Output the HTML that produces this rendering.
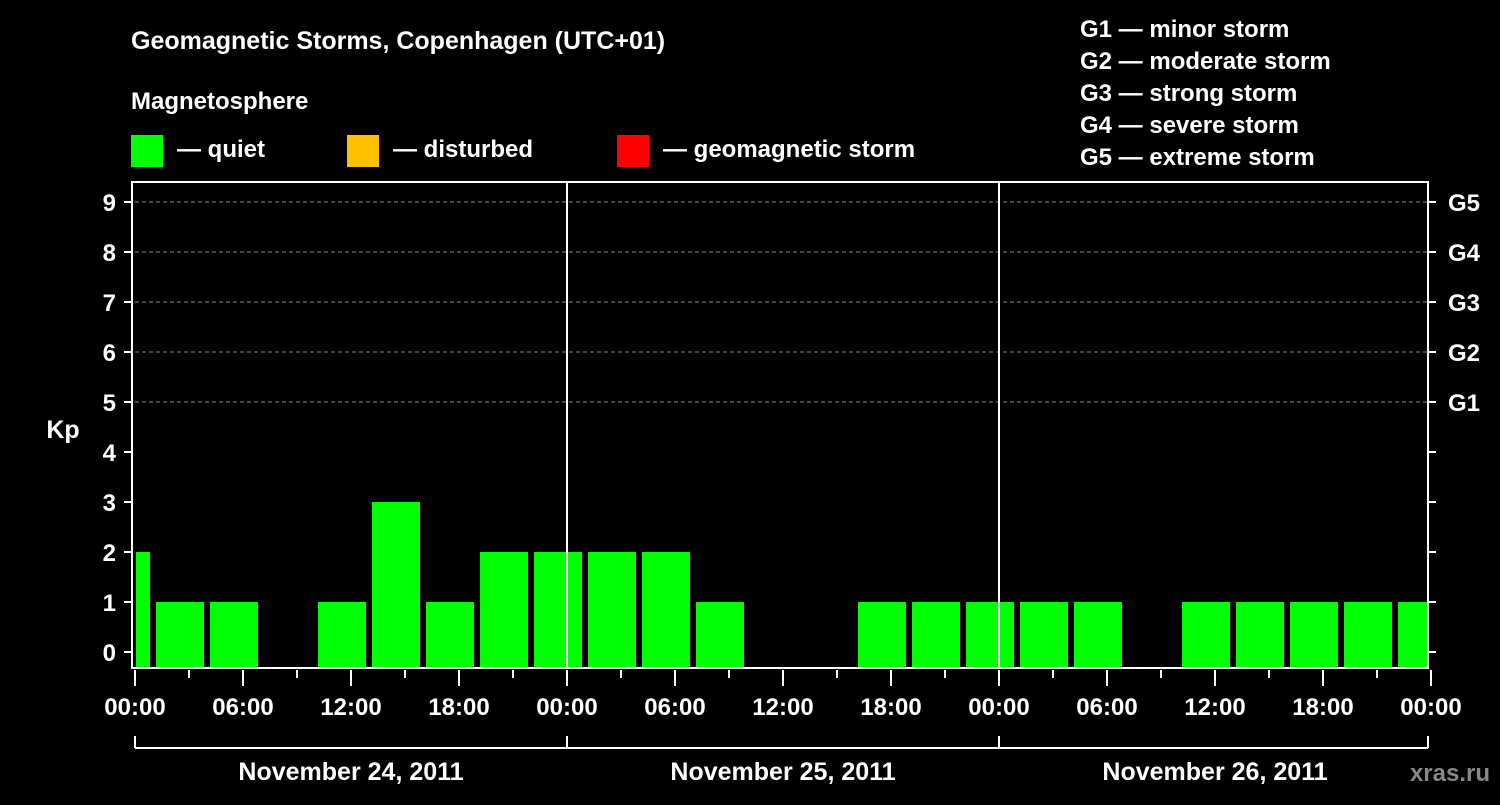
<!DOCTYPE html>
<html><head><meta charset="utf-8"><style>
body{margin:0;background:#000;width:1500px;height:800px;overflow:hidden}
svg text{font-family:"Liberation Sans",Arial,sans-serif;font-weight:bold;fill:#fff}
</style></head><body>
<svg id="chart" width="1500" height="800" xmlns="http://www.w3.org/2000/svg">
<text x="131" y="49" font-size="25">Geomagnetic Storms, Copenhagen (UTC+01)</text>
<text x="131" y="109" font-size="24">Magnetosphere</text>
<g><rect x="131" y="135" width="32" height="32" fill="#00ff00"/><text x="177" y="157" font-size="24">— quiet</text></g>
<g><rect x="347" y="135" width="32" height="32" fill="#ffc000"/><text x="393" y="157" font-size="24">— disturbed</text></g>
<g><rect x="617" y="135" width="32" height="32" fill="#ff0000"/><text x="663" y="157" font-size="24">— geomagnetic storm</text></g>
<g font-size="24">
<text x="1080" y="37">G1 — minor storm</text>
<text x="1080" y="69">G2 — moderate storm</text>
<text x="1080" y="101">G3 — strong storm</text>
<text x="1080" y="133">G4 — severe storm</text>
<text x="1080" y="165">G5 — extreme storm</text>
</g>
<text x="63" y="438" font-size="25" text-anchor="middle">Kp</text>
<text x="1490" y="781" font-size="24" text-anchor="end" fill="#888" style="fill:#888">xras.ru</text>
<g id="grid"></g><g id="bars"></g><g id="axes"></g>
</svg>
<script>
const kpValues=[2,1,1,0,1,3,1,2,2,2,2,1,0,0,1,1,1,1,1,0,1,1,1,1,1];
const yTicks=[0,1,2,3,4,5,6,7,8,9];
const gLabels=["G1","G2","G3","G4","G5"];
const dateLabels=["November 24, 2011","November 25, 2011","November 26, 2011"];
const xTickLabels=["00:00","06:00","12:00","18:00"];
const NS="http://www.w3.org/2000/svg";
const X0=135,X1=1428,Y0=182,Y1=668,PXH=18;
const xs=h=>X0+h*PXH, ys=v=>652-50*v;
function mk(p,t,a){const e=document.createElementNS(NS,t);for(const k in a)e.setAttribute(k,a[k]);p.appendChild(e);return e;}
const grid=document.getElementById('grid'),bars=document.getElementById('bars'),axes=document.getElementById('axes');
for(let v=5;v<=9;v++){const l=mk(grid,'line',{x1:X0,x2:X1,y1:ys(v),y2:ys(v),stroke:'#888','stroke-dasharray':'4,3','stroke-width':1});

}
kpValues.forEach((v,i)=>{if(v<=0)return;
let s=i===0?0:1+3*(i-1), e=i===0?1:s+3;
let xa=i===0?xs(s)+1:xs(s)+3, xb=Math.min(xs(e)-3,X1);
const r=mk(bars,'rect',{x:xa,y:ys(v),width:xb-xa,height:Y1-ys(v),fill:v>=5?'#ff0000':v>=4?'#ffc000':'#00ff00'});

});
mk(axes,'rect',{x:132,y:Y0,width:X1-132,height:Y1-Y0,fill:'none',stroke:'#fff','stroke-width':2});
[1,2].forEach(d=>{const l=mk(axes,'line',{x1:xs(24*d),x2:xs(24*d),y1:Y0,y2:Y1,stroke:'#fff','stroke-width':2});

});
yTicks.forEach(v=>{mk(axes,'line',{x1:124,x2:132,y1:ys(v),y2:ys(v),stroke:'#fff','stroke-width':2});
mk(axes,'line',{x1:X1,x2:X1+8,y1:ys(v),y2:ys(v),stroke:'#fff','stroke-width':2});
const t=mk(axes,'text',{x:116,y:ys(v)+9,'font-size':24,'text-anchor':'end'});t.textContent=v;

});
gLabels.forEach((g,i)=>{const t=mk(axes,'text',{x:1448,y:ys(5+i)+9,'font-size':24});t.textContent=g;

});
for(let h=0;h<=72;h+=3){const maj=h%6===0;mk(axes,'line',{x1:xs(h),x2:xs(h),y1:670,y2:maj?686:678,stroke:'#fff','stroke-width':2});
if(maj){const t=mk(axes,'text',{x:xs(h),y:715,'font-size':24,'text-anchor':'middle'});t.textContent=xTickLabels[(h%24)/6];

}}
mk(axes,'line',{x1:X0,x2:X1,y1:748,y2:748,stroke:'#fff','stroke-width':2});
[0,24,48,72].forEach(h=>mk(axes,'line',{x1:Math.min(xs(h),X1),x2:Math.min(xs(h),X1),y1:736,y2:748,stroke:'#fff','stroke-width':2}));
dateLabels.forEach((d,i)=>{const t=mk(axes,'text',{x:xs(24*i+12),y:780,'font-size':25,'text-anchor':'middle'});t.textContent=d;

});
</script>
</body></html>
